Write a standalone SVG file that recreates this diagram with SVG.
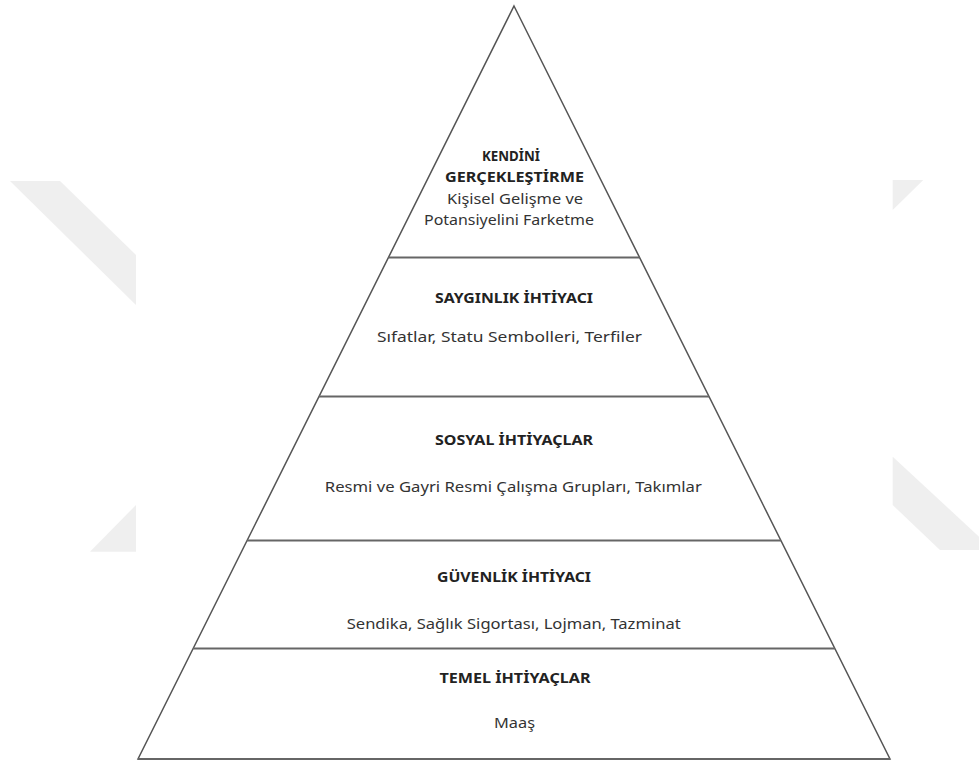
<svg xmlns="http://www.w3.org/2000/svg" width="979" height="760" viewBox="0 0 979 760">
<style>
.wm{fill:#efefef;stroke:none}
.tier{fill:none;stroke:#555;stroke-width:1.5;stroke-linejoin:miter}
.div{stroke:#666;stroke-width:2}
.h{font-family:"Noto Sans","Liberation Sans",sans-serif;font-weight:bold;font-size:14.5px;fill:#222;text-anchor:middle}
.t{font-family:"Noto Sans","Liberation Sans",sans-serif;font-size:14.5px;fill:#333;text-anchor:middle}
</style>
<rect width="979" height="760" fill="#fff"/>
<g id="watermark">
<polygon class="wm" points="10,181 60,181 136,255 136,305"/>
<polygon class="wm" points="136,505 136,551.7 90,551.7"/>
<polygon class="wm" points="892.7,180 923.3,180 892.7,210"/>
<polygon class="wm" points="892.7,456.7 979,536.7 979,550 940,550 892.7,505"/>
</g>
<g id="outline">
<polygon class="tier" points="514,6 890,759 138,759"/>
</g>
<g id="dividers">
<line class="div" x1="388.4" y1="257.5" x2="639.6" y2="257.5"/>
<line class="div" x1="319" y1="396.5" x2="709" y2="396.5"/>
<line class="div" x1="247.1" y1="540.5" x2="780.9" y2="540.5"/>
<line class="div" x1="193.2" y1="648.5" x2="834.8" y2="648.5"/>
<line class="div" x1="138" y1="759" x2="890" y2="759"/>
</g>
<g id="tier-kendini">
<text class="h" x="511" y="160.7" textLength="58" lengthAdjust="spacingAndGlyphs">KENDİNİ</text>
<text class="h" x="514.5" y="181.7" textLength="139" lengthAdjust="spacingAndGlyphs">GERÇEKLEŞTİRME</text>
<text class="t" x="515" y="204.3" textLength="136" lengthAdjust="spacingAndGlyphs">Kişisel Gelişme ve</text>
<text class="t" x="509" y="224.5" textLength="170" lengthAdjust="spacingAndGlyphs">Potansiyelini Farketme</text>
</g>
<g id="tier-saygi">
<text class="h" x="514" y="302.7" textLength="158" lengthAdjust="spacingAndGlyphs">SAYGINLIK İHTİYACI</text>
<text class="t" x="509.5" y="341.7" textLength="265" lengthAdjust="spacingAndGlyphs">Sıfatlar, Statu Sembolleri, Terfiler</text>
</g>
<g id="tier-sosyal">
<text class="h" x="514" y="445" textLength="158" lengthAdjust="spacingAndGlyphs">SOSYAL İHTİYAÇLAR</text>
<text class="t" x="513.3" y="491.7" textLength="377" lengthAdjust="spacingAndGlyphs">Resmi ve Gayri Resmi Çalışma Grupları, Takımlar</text>
</g>
<g id="tier-guvenlik">
<text class="h" x="514" y="581.7" textLength="154" lengthAdjust="spacingAndGlyphs">GÜVENLİK İHTİYACI</text>
<text class="t" x="513.7" y="629.3" textLength="334" lengthAdjust="spacingAndGlyphs">Sendika, Sağlık Sigortası, Lojman, Tazminat</text>
</g>
<g id="tier-temel">
<text class="h" x="515" y="682.7" textLength="151" lengthAdjust="spacingAndGlyphs">TEMEL İHTİYAÇLAR</text>
<text class="t" x="514.5" y="728.3" textLength="41" lengthAdjust="spacingAndGlyphs">Maaş</text>
</g>
</svg>
